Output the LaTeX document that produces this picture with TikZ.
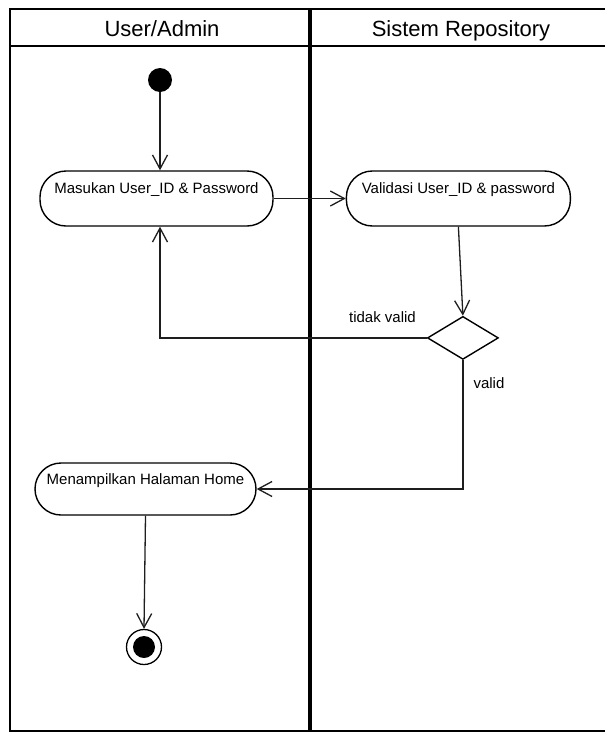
\documentclass[tikz,border=0pt]{standalone}
\usepackage{fontspec}
\setmainfont{Liberation Sans}
\usetikzlibrary{arrows.meta,calc,positioning,shapes.geometric}
\definecolor{ink}{HTML}{000000}
\definecolor{wire}{HTML}{1E1E1E}
\tikzset{
  lane/.style={draw=ink,line width=2.6pt},
  lanesplit/.style={draw=ink,line width=4pt},
  lanehead/.style={font=\fontsize{22}{26}\selectfont,text=ink,inner sep=0pt,anchor=base},
  actbox/.style={draw=ink,fill=white,rounded corners=26pt,line width=1.4pt,align=center,
    font=\fontsize{15}{18}\selectfont,text height=11pt,text depth=21pt,inner sep=0pt},
  decide/.style={diamond,draw=ink,fill=white,line width=1.4pt,inner sep=0pt,
    minimum width=71pt,minimum height=43pt},
  startdot/.style={circle,fill=ink,minimum size=24pt,inner sep=0pt},
  enddot/.style={circle,draw=ink,fill=white,line width=1.3pt,minimum size=35pt,inner sep=0pt,
    path picture={\fill[ink] (path picture bounding box.center) circle (11pt);}},
  flow/.style={-{Straight Barb[length=14pt,width=15pt,line width=1.3pt]},line width=1.3pt,draw=wire},
  guard/.style={font=\fontsize{15}{18}\selectfont,text=ink,inner sep=3pt}
}

\begin{document}
\begin{tikzpicture}[x=1pt,y=-1pt,node distance=72pt]
  \useasboundingbox (0,0) rectangle (605,734);
  \clip (0,0) rectangle (605,734);

  \draw[lane] (10,9) rectangle (614,731);
  \draw[lane] (10,46) -- (614,46);
  \draw[lanesplit] (310,9) -- (310,731);
  \node[lanehead] (laneUser) at (162,36) {User/Admin};
  \node[lanehead] (laneSistem) at (461,36) {Sistem Repository};

  \node[startdot] (start) at (160,80) {};
  \node[actbox,minimum width=233pt,minimum height=55pt] (masukan) at (156.5,198.5) {Masukan User\_ID \& Password};
  \node[actbox,minimum width=224pt,minimum height=55pt,right=of masukan] (validasi) {Validasi User\_ID \& password};
  \node[decide,below=89pt of validasi,xshift=4.5pt] (cek) {};
  \node[actbox,minimum width=221pt,minimum height=52pt] (home) at (145.5,489) {Menampilkan Halaman Home};
  \node[enddot] (akhir) at (144,647) {};

  \draw[flow] (start) -- (start |- masukan.north);
  \draw[flow] (masukan) -- (validasi);
  \draw[flow] (validasi.south) -- (cek.north);
  \draw[flow] (cek.west) -| node[guard,pos=0.083,above=12pt] {tidak valid} (masukan.south -| start);
  \draw[flow] (cek.south) |- node[guard,pos=0.09,right=7pt] {valid} (home.east);
  \draw[flow] (home.south) -- (akhir.north);
\end{tikzpicture}
\end{document}
